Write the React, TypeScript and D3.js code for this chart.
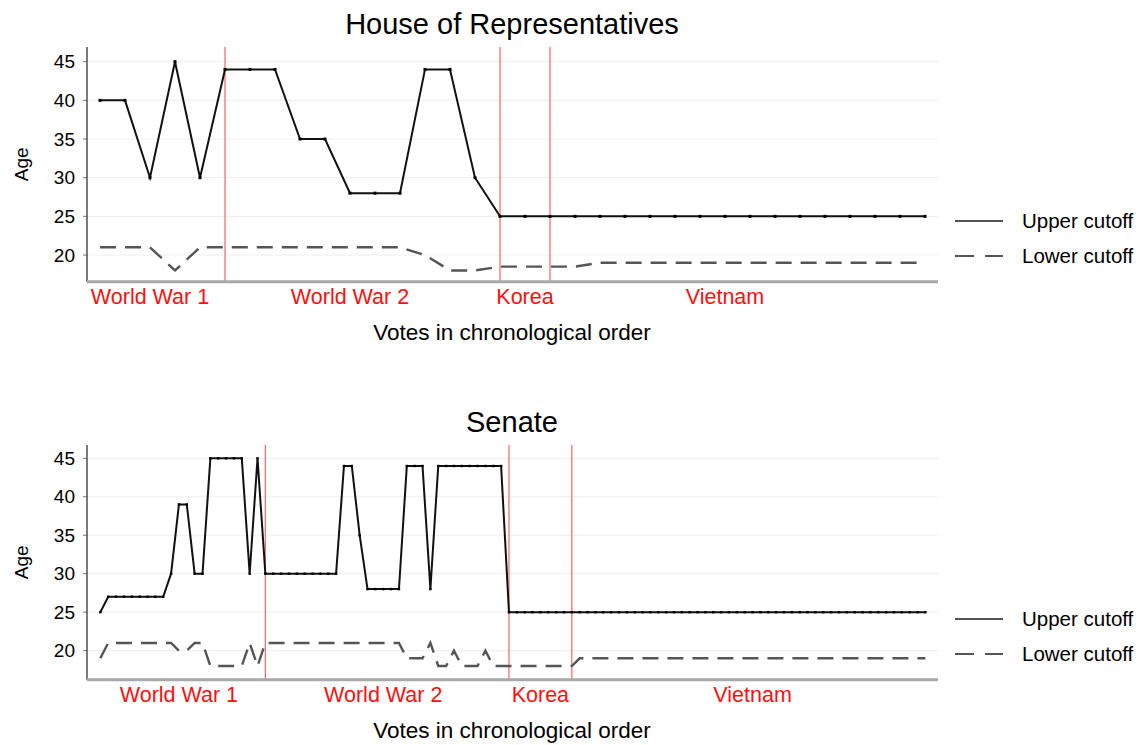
import { scaleLinear, line } from "d3"

// House of Representatives: one value per vote
const houseUpper = [40, 40, 30, 45, 30, 44, 44, 44, 35, 35, 28, 28, 28, 44, 44, 30,
  25, 25, 25, 25, 25, 25, 25, 25, 25, 25, 25, 25, 25, 25, 25, 25, 25, 25]
const houseLower = [21, 21, 21, 18, 21, 21, 21, 21, 21, 21, 21, 21, 21, 20, 18, 18,
  18.5, 18.5, 18.5, 18.5, 19, 19, 19, 19, 19, 19, 19, 19, 19, 19, 19, 19, 19, 19]
const houseWarBreaks = [5, 16, 18]
const houseWarLabelAt = [2, 10, 17, 25]

// Senate
const senateUpper = [25,
  27, 27, 27, 27, 27, 27, 27, 27,
  30, 39, 39, 30, 30,
  45, 45, 45, 45, 45,
  30, 45,
  30, 30, 30, 30, 30, 30, 30, 30, 30, 30,
  44, 44, 35,
  28, 28, 28, 28, 28,
  44, 44, 44, 28,
  44, 44, 44, 44, 44, 44, 44, 44, 44,
  25, 25, 25, 25, 25, 25, 25, 25, 25, 25, 25, 25, 25, 25, 25, 25, 25, 25,
  25, 25, 25, 25, 25, 25, 25, 25, 25, 25, 25, 25, 25, 25, 25, 25, 25, 25,
  25, 25, 25, 25, 25, 25, 25, 25, 25, 25, 25, 25, 25, 25, 25, 25, 25, 25]
const senateLower = [19,
  21, 21, 21, 21, 21, 21, 21, 21, 21,
  20, 20, 21, 21,
  18, 18, 18, 18, 18,
  21, 18,
  21, 21, 21, 21, 21, 21, 21, 21, 21, 21, 21, 21, 21, 21, 21, 21, 21, 21,
  19, 19, 19, 21, 18, 18, 20, 18, 18, 18, 20,
  18, 18, 18, 18, 18, 18, 18, 18, 18, 18, 18,
  19, 19, 19, 19, 19, 19, 19, 19, 19, 19, 19, 19, 19, 19, 19,
  19, 19, 19, 19, 19, 19, 19, 19, 19, 19, 19, 19, 19, 19, 19,
  19, 19, 19, 19, 19, 19, 19, 19, 19, 19, 19, 19, 19, 19, 19]
const senateWarBreaks = [21, 52, 60]
const senateWarLabelAt = [10, 36, 56, 83]

const warNames = ["World War 1", "World War 2", "Korea", "Vietnam"]
const ageTicks = [20, 25, 30, 35, 40, 45]
const legendItems = ["Upper cutoff", "Lower cutoff"]

const FONT = "'Liberation Sans', Arial, Helvetica, sans-serif"
const LEFT = 87
const RIGHT = 938

function Panel({ title, top, upper, lower, breaks, labelAt, xDomain, yDomain, dotR }) {
  const axisTop = top + 47
  const axisBottom = top + 281.7
  const x = scaleLinear().domain(xDomain).range([LEFT, RIGHT])
  const y = scaleLinear().domain(yDomain).range([axisBottom, axisTop])
  const mk = line<number>().x((d, i) => x(i)).y(d => y(d))
  const midY = (axisTop + axisBottom) / 2

  return (
    <g>
      <text x={512} y={top + 34} textAnchor="middle" fontSize={29} fontFamily={FONT}>{title}</text>
      {/* grid */}
      {ageTicks.map(t => (
        <g key={t}>
          <line x1={LEFT} x2={RIGHT} y1={y(t)} y2={y(t)} stroke="#efefef" strokeWidth={1.2} />
          <line x1={LEFT - 4} x2={LEFT} y1={y(t)} y2={y(t)} stroke="#777" strokeWidth={1} />
          <text x={75} y={y(t)} dy="0.35em" textAnchor="end" fontSize={19} fontFamily={FONT}>{t}</text>
        </g>
      ))}
      {breaks.map(b => (
        <line key={b} x1={x(b)} x2={x(b)} y1={axisTop} y2={axisBottom} stroke="#ff6e6e" strokeWidth={1.3} />
      ))}
      <path d={mk(lower)} fill="none" stroke="#555" strokeWidth={2.4} strokeDasharray="16 9" />
      <path d={mk(upper)} fill="none" stroke="#111" strokeWidth={2} />
      {upper.map((d, i) => (
        <rect key={i} x={x(i) - dotR} y={y(d) - dotR} width={dotR * 2} height={dotR * 2} fill="#000" />
      ))}
      {/* axes */}
      <line x1={LEFT} x2={LEFT} y1={axisTop} y2={axisBottom} stroke="#333" strokeWidth={1.3} />
      <line x1={LEFT} x2={RIGHT} y1={axisBottom} y2={axisBottom} stroke="#a8a8a8" strokeWidth={3} />
      {labelAt.map((p, i) => (
        <text key={i} x={x(p)} y={axisBottom + 22} textAnchor="middle" fontSize={21.5} fill="#ff1010" fontFamily={FONT}>
          {warNames[i]}
        </text>
      ))}
      <text x={512} y={axisBottom + 58} textAnchor="middle" fontSize={22.5} fontFamily={FONT}>Votes in chronological order</text>
      <text transform={`translate(28,${midY}) rotate(-90)`} textAnchor="middle" fontSize={19} fontFamily={FONT}>Age</text>
      {/* legend */}
      {legendItems.map((name, i) => {
        const ly = top + 221 + i * 35
        return (
          <g key={name}>
            <line x1={955} x2={1003} y1={ly} y2={ly} stroke="#555" strokeWidth={2.2}
              strokeDasharray={i === 1 ? "19 11" : undefined} />
            <text x={1022} y={ly} dy="0.35em" fontSize={20.5} fontFamily={FONT}>{name}</text>
          </g>
        )
      })}
    </g>
  )
}

export default function App() {
  return (
    <svg width={1140} height={745} style={{ position: "absolute", left: 0, top: 0, background: "#fff" }}>
      <Panel title="House of Representatives" top={0} upper={houseUpper} lower={houseLower}
        breaks={houseWarBreaks} labelAt={houseWarLabelAt}
        xDomain={[-0.52, 33.52]} yDomain={[16.55, 46.9]} dotR={1.5} />
      <Panel title="Senate" top={398} upper={senateUpper} lower={senateLower}
        breaks={senateWarBreaks} labelAt={senateWarLabelAt}
        xDomain={[-1.7, 106.6]} yDomain={[16.22, 46.73]} dotR={1.2} />
    </svg>
  )
}
